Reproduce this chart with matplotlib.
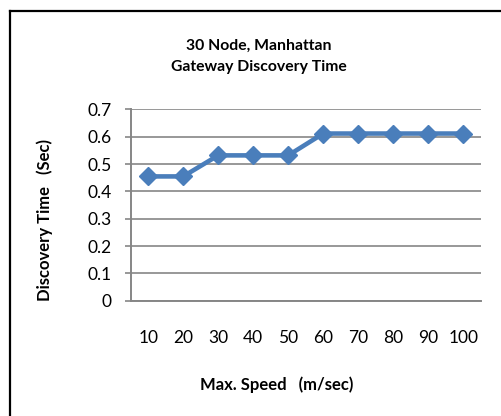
import matplotlib
matplotlib.use("Agg")
import matplotlib.pyplot as plt
from matplotlib.lines import Line2D

# data
speeds = ["10", "20", "30", "40", "50", "60", "70", "80", "90", "100"]
disc_time = [0.455, 0.455, 0.532, 0.532, 0.532, 0.612, 0.612, 0.612, 0.612, 0.612]
y_ticks = [0, 0.1, 0.2, 0.3, 0.4, 0.5, 0.6, 0.7]
y_tick_labels = ["0", "0.1", "0.2", "0.3", "0.4", "0.5", "0.6", "0.7"]

plt.rcParams['font.family'] = ['Lato', 'DejaVu Sans']

W, H = 501, 416
fig = plt.figure(figsize=(W / 100, H / 100), dpi=100)
ax = fig.add_axes([130.7 / W, 1 - 300.7 / H, 350 / W, 191.2 / H])

blue = '#4A7EBB'
grey = '#868686'

x = list(range(len(speeds)))
ax.plot(x, disc_time, color=blue, lw=3.3, marker='D', markersize=9,
        markerfacecolor=blue, markeredgecolor=blue, zorder=3, clip_on=False)

ax.set_xlim(-0.5, len(speeds) - 0.5)
ax.set_ylim(0, 0.7)
ax.set_yticks(y_ticks)
ax.set_yticklabels(y_tick_labels)
ax.set_xticks(x)
ax.set_xticklabels(speeds)
ax.yaxis.grid(True, color=grey, lw=1.2)
ax.set_axisbelow(True)

for s in ['top', 'right']:
    ax.spines[s].set_visible(False)
for s in ['left', 'bottom']:
    ax.spines[s].set_color(grey)
    ax.spines[s].set_linewidth(1.4)

ax.tick_params(axis='y', length=4, width=1.2, color=grey, pad=10, labelsize=12.5)
ax.tick_params(axis='x', length=0, pad=21, labelsize=12.5)

fig.text(259 / W, 1 - 46 / H, "30 Node, Manhattan", ha='center', va='center',
         fontsize=11.3, fontweight='bold')
fig.text(259 / W, 1 - 67 / H, "Gateway Discovery Time", ha='center', va='center',
         fontsize=11.3, fontweight='bold')
fig.text(277 / W, 1 - 385 / H, "Max. Speed   (m/sec)", ha='center', va='center',
         fontsize=12, fontweight='bold')
fig.text(45 / W, 1 - 220 / H, "Discovery Time   (Sec)", ha='center', va='center',
         rotation=90, fontsize=12, fontweight='bold')

# outer chart border (only top and left visible in the crop)
fig.add_artist(Line2D([10 / W, 1.0], [1 - 11 / H, 1 - 11 / H], color='black', lw=1.6,
                      transform=fig.transFigure))
fig.add_artist(Line2D([10 / W, 10 / W], [0.0, 1 - 11 / H], color='black', lw=1.6,
                      transform=fig.transFigure))

fig.savefig("out.png", dpi=100)
